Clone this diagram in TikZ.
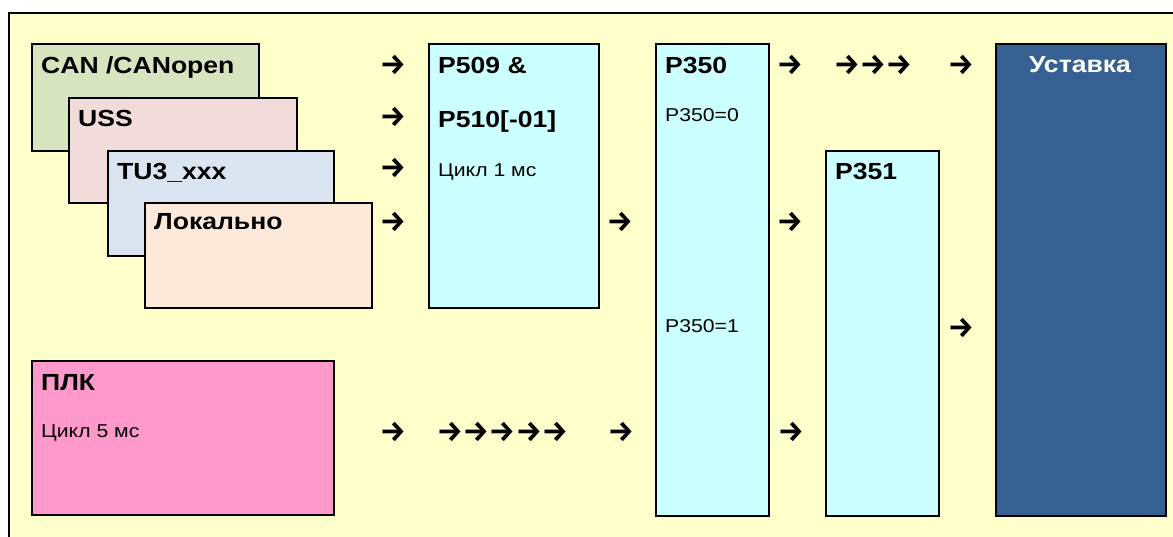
\documentclass[tikz,border=0pt]{standalone}
\usepackage{fontspec}
\setmainfont{Liberation Sans}[FakeStretch=1.14]
\newfontfamily\arrfont{Fira Sans}
\definecolor{Canvas}{HTML}{FFFFCC}
\definecolor{CanGreen}{HTML}{D7E4BD}
\definecolor{UssRose}{HTML}{F2DCDB}
\definecolor{TuBlue}{HTML}{DBE5F1}
\definecolor{LocPeach}{HTML}{FDE9D9}
\definecolor{ParCyan}{HTML}{CCFFFF}
\definecolor{PlcPink}{HTML}{FF99CC}
\definecolor{SetBlue}{HTML}{366092}

\begin{document}
\begin{tikzpicture}[x=1pt,y=-1pt,
      blk/.style={draw=black,line width=2pt,anchor=north west,inner sep=0pt},
      ttl/.style={anchor=base west,inner sep=0pt,font=\fontsize{23.3}{28}\selectfont\bfseries},
      txt/.style={anchor=base west,inner sep=0pt,font=\fontsize{18.6}{22}\selectfont},
      glyph/.style={inner sep=0pt,font=\arrfont\fontsize{29}{32}\selectfont\bfseries}]
      \useasboundingbox (0,0) rectangle (1173,537);
      \node[blk,fill=Canvas,minimum width=1200pt,minimum height=560pt] (frame) at (8,12) {};
      % sources
      \node[blk,fill=CanGreen,minimum width=227pt,minimum height=107pt] (can) at (31,43) {};
      \node[blk,fill=UssRose,minimum width=228pt,minimum height=105pt] (uss) at (68,97) {};
      \node[blk,fill=TuBlue,minimum width=226pt,minimum height=105pt] (tu) at (107,150) {};
      \node[blk,fill=LocPeach,minimum width=227pt,minimum height=105pt] (loc) at (144,202) {};
      \node[blk,fill=PlcPink,minimum width=302pt,minimum height=154pt] (plc) at (31,360) {};
      % parameters
      \node[blk,fill=ParCyan,minimum width=170pt,minimum height=264pt] (pfil) at (428,43) {};
      \node[blk,fill=ParCyan,minimum width=113pt,minimum height=472pt] (psel) at (655,43) {};
      \node[blk,fill=ParCyan,minimum width=113pt,minimum height=365pt] (pmux) at (825,150) {};
      \node[blk,fill=SetBlue,minimum width=170pt,minimum height=472pt] (setp) at (995,43) {};
      % labels
      \node[ttl] (canT) at (41,74) {CAN /CANopen};
      \node[ttl] (ussT) at (78,127) {USS};
      \node[ttl] (tuT) at (117,180) {TU3\_xxx};
      \node[ttl] (locT) at (154,230) {Локально};
      \node[ttl] (plcT) at (41,390) {ПЛК};
      \node[txt] (plcC) at (41,437) {Цикл 5 мс};
      \node[ttl] (pfilT) at (438,74) {P509 \&};
      \node[ttl] (pfilU) at (438,128) {P510[-01]};
      \node[txt] (pfilC) at (438,177) {Цикл 1 мс};
      \node[ttl] (pselT) at (665,74) {P350};
      \node[txt] (pselA) at (665,122) {P350=0};
      \node[txt] (pselB) at (665,333) {P350=1};
      \node[ttl] (pmuxT) at (835,180) {P351};
      \node[ttl,anchor=base,text=white] (setT) at (1080,73) {Уставка};
      % flow glyphs
      \foreach \x/\y [count=\i] in {393/65,393/117,393/168,393/222,620/222,790/65,
          847/65,873/65,899/65,961/65,790/222,961/328,393/432,450/432,476/432,
          502/432,529/432,555/432,621/432,791/432}
        \node[glyph] (arr\i) at (\x,\y) {→};
    \end{tikzpicture}
\end{document}
